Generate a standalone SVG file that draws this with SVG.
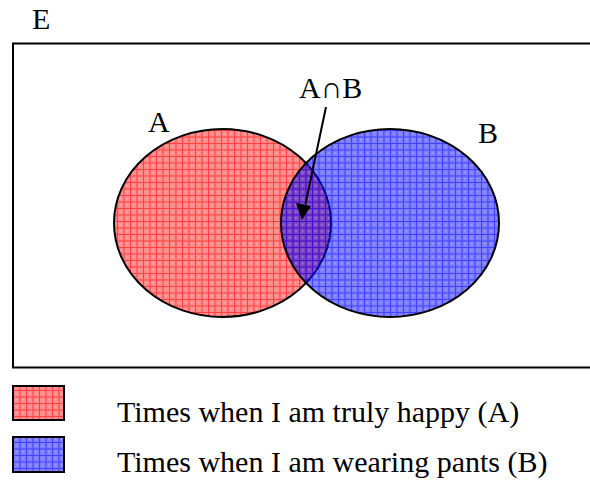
<svg xmlns="http://www.w3.org/2000/svg" width="590" height="481" viewBox="0 0 590 481">
<style>
.t{font-family:"Liberation Serif","Times New Roman",serif;font-size:30px;fill:#000}
.outline{stroke:#000;stroke-width:2}
</style>
<defs>
<pattern id="pr" width="6.5" height="6.5" patternUnits="userSpaceOnUse">
<rect width="6.5" height="6.5" fill="#ff0000" fill-opacity="0.45"/>
<path d="M0 0.5H6.5M0.5 0V6.5" stroke="#ff0000" stroke-width="1" stroke-opacity="0.55"/>
<rect x="3" y="3" width="1" height="1" fill="#fff" fill-opacity="0.6"/>
</pattern>
<pattern id="pb" width="6.5" height="6.5" patternUnits="userSpaceOnUse">
<rect width="6.5" height="6.5" fill="#0000ff" fill-opacity="0.5"/>
<path d="M0 0.5H6.5M0.5 0V6.5" stroke="#0000ff" stroke-width="1" stroke-opacity="0.5"/>
<rect x="3" y="3" width="1" height="1" fill="#fff" fill-opacity="0.6"/>
</pattern>
</defs>
<rect width="590" height="481" fill="#fff"/>
<g id="universe">
<rect x="13" y="43.5" width="590" height="324" fill="none" class="outline"/>
<text class="t" x="32" y="29">E</text>
</g>
<g id="setA">
<ellipse cx="222.5" cy="223" rx="108.5" ry="94" fill="url(#pr)" class="outline"/>
<text class="t" x="148" y="132">A</text>
</g>
<g id="setB">
<ellipse cx="390" cy="223" rx="109" ry="94" fill="url(#pb)" class="outline"/>
<text class="t" x="478" y="143">B</text>
</g>
<g id="intersection">
<text class="t" x="299" y="98">A∩B</text>
</g>
<g id="connectors">
<line x1="326" y1="107" x2="305.5" y2="204" stroke="#000" stroke-width="2"/>
<polygon points="296,203 311,206 302,220" fill="#000"/>
</g>
<g id="legendA">
<rect x="13" y="386" width="51" height="34" fill="url(#pr)" class="outline"/>
<text class="t" x="117" y="422">Times when I am truly happy (A)</text>
</g>
<g id="legendB">
<rect x="13" y="437" width="51" height="35" fill="url(#pb)" class="outline"/>
<text class="t" x="117" y="472">Times when I am wearing pants (B)</text>
</g>
</svg>
